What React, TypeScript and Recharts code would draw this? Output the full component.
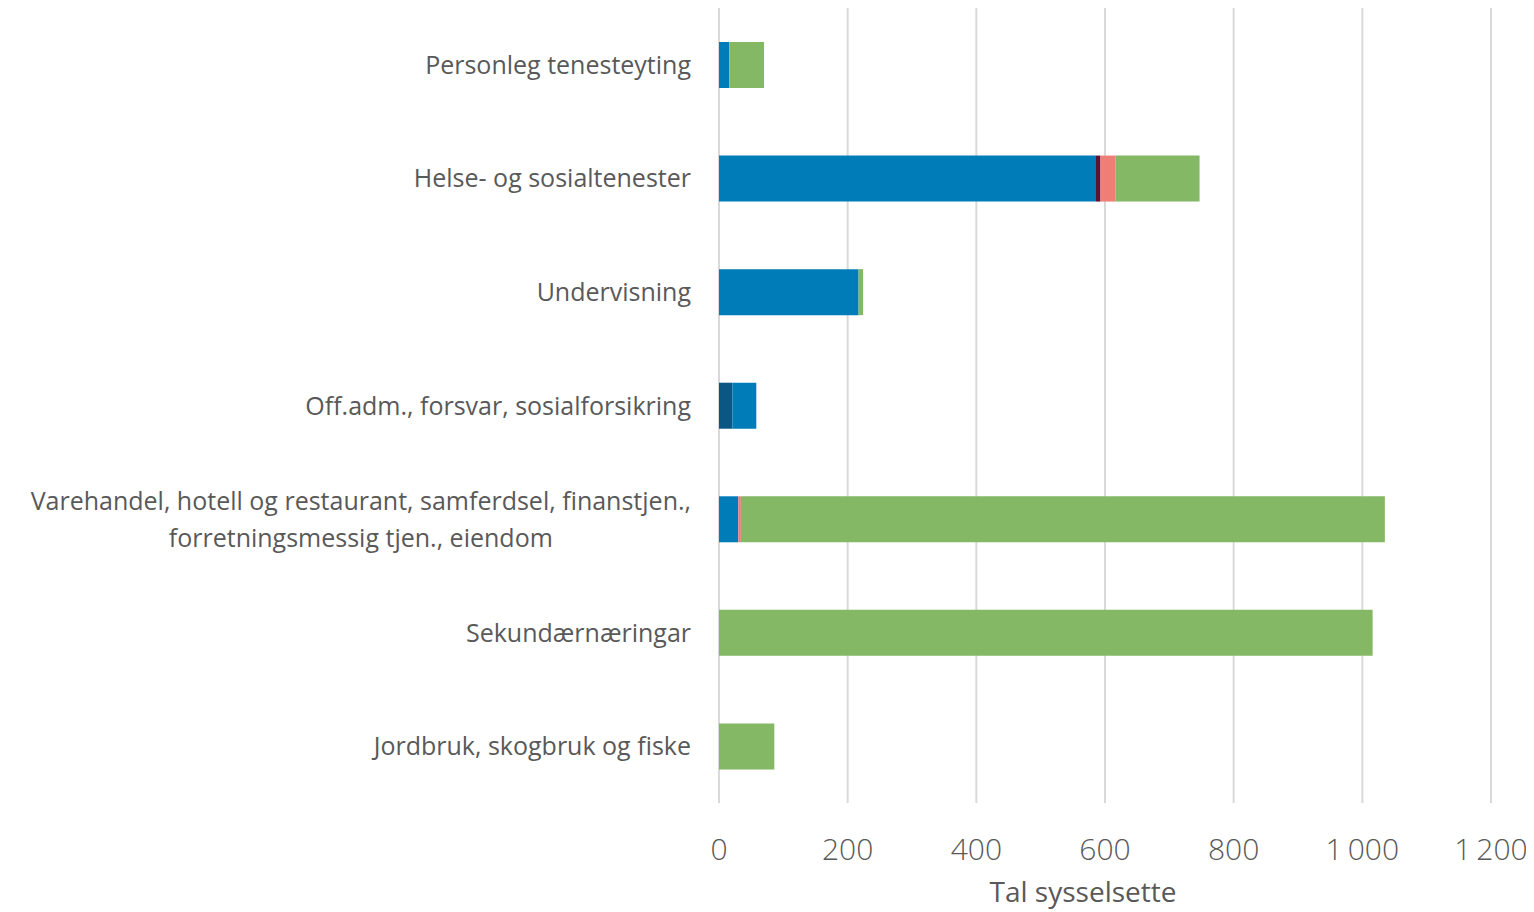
import React from 'react';
import { BarChart, Bar, XAxis, YAxis, CartesianGrid } from 'recharts';

const categories = [
  'Personleg tenesteyting',
  'Helse- og sosialtenester',
  'Undervisning',
  'Off.adm., forsvar, sosialforsikring',
  'Varehandel, hotell og restaurant, samferdsel, finanstjen.,\nforretningsmessig tjen., eiendom',
  'Sekundærnæringar',
  'Jordbruk, skogbruk og fiske',
];

const statlig = [0, 0, 0, 21, 0, 0, 0];
const kommunal = [16, 586, 217, 37, 30, 0, 0];
const fylke = [0, 7, 0, 0, 0, 0, 0];
const offentlegEigd = [0, 23, 0, 0, 4, 0, 0];
const privat = [54, 131, 7, 0, 1001, 1016, 86];

const xTicks = [0, 200, 400, 600, 800, 1000, 1200];

const data = categories.map((name, i) => ({
  name,
  statlig: statlig[i],
  kommunal: kommunal[i],
  fylke: fylke[i],
  offentlegEigd: offentlegEigd[i],
  privat: privat[i],
}));

const FONT = '"Open Sans", sans-serif';
const TEXT = '#595959';
const CAT_SIZE = 25;

let ctx: CanvasRenderingContext2D | null = null;
const measure = (s: string, size: number) => {
  if (!ctx) ctx = document.createElement('canvas').getContext('2d');
  if (!ctx) return s.length * size * 0.5;
  ctx.font = `${size}px "Open Sans"`;
  return ctx.measureText(s).width;
};

const CategoryTick = ({ x, y, payload }: any) => {
  const lines: string[] = String(payload.value).split('\n');
  if (lines.length === 1) {
    return (
      <text x={x} y={y} dy={9} textAnchor="end" fontSize={CAT_SIZE} fill={TEXT} fontFamily={FONT}>
        {lines[0]}
      </text>
    );
  }
  const w = Math.max(...lines.map((l) => measure(l, CAT_SIZE)));
  const cx = x - w / 2;
  const lh = 37;
  const start = y - ((lines.length - 1) * lh) / 2 + 9;
  return (
    <text x={cx} y={start} textAnchor="middle" fontSize={CAT_SIZE} fill={TEXT} fontFamily={FONT}>
      {lines.map((l, i) => (
        <tspan key={i} x={cx} dy={i === 0 ? 0 : lh}>
          {l}
        </tspan>
      ))}
    </text>
  );
};

const fmt = (v: number) => (v >= 1000 ? `${Math.floor(v / 1000)}\u2009${String(v % 1000).padStart(3, '0')}` : String(v));

export default function App() {
  return (
    <div style={{ width: 1526, height: 904 }}>
      <BarChart
        width={1526}
        height={904}
        data={data}
        layout="vertical"
        margin={{ top: 0, right: 43, left: 0, bottom: 0 }}
        barSize={46}
      >
        <CartesianGrid horizontal={false} stroke="#d9d9d9" strokeWidth={2} />
        <XAxis
          type="number"
          domain={[0, 1200]}
          ticks={xTicks}
          tickFormatter={fmt}
          axisLine={false}
          tickLine={false}
          height={109}
          tickMargin={30}
          tick={{ fontSize: 30, fill: TEXT, fontFamily: FONT, fontWeight: 300 }}
          label={{
            value: 'Tal sysselsette',
            position: 'insideBottom',
            offset: 10,
            dx: -22,
            fontSize: 28,
            fill: TEXT,
            fontFamily: FONT,
          }}
        />
        <YAxis
          type="category"
          dataKey="name"
          width={711}
          axisLine={false}
          tickLine={false}
          tickMargin={22}
          interval={0}
          tick={<CategoryTick />}
        />
        <Bar dataKey="statlig" stackId="a" fill="#0a5783" isAnimationActive={false} />
        <Bar dataKey="kommunal" stackId="a" fill="#007cb8" isAnimationActive={false} />
        <Bar dataKey="fylke" stackId="a" fill="#5c1232" isAnimationActive={false} />
        <Bar dataKey="offentlegEigd" stackId="a" fill="#ef7f76" isAnimationActive={false} />
        <Bar dataKey="privat" stackId="a" fill="#84b865" isAnimationActive={false} />
      </BarChart>
    </div>
  );
}
